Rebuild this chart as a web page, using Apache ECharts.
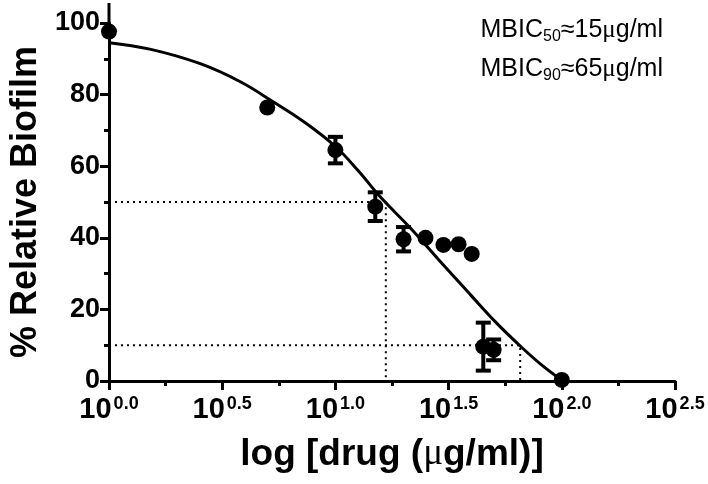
<!DOCTYPE html>
<html>
<head>
<meta charset="utf-8">
<script src="https://cdn.jsdelivr.net/npm/echarts@6/dist/echarts.min.js"></script>
<style>
html,body{margin:0;padding:0;background:#fff;}
#chart{width:708px;height:484px;}
</style>
</head>
<body>
<div id="chart"></div>
<script>
// Measured data: drug concentration (µg/ml) and % relative biofilm
var concentrations = [1, 5, 10, 15, 20, 25, 30, 35, 40, 45, 50, 100];
var biofilm = [97.6, 76.4, 64.5, 48.7, 39.6, 40.0, 38.0, 38.2, 35.5, 9.6, 8.7, 0.3];
var errors = [0, 0, 3.7, 4.0, 3.4, 0, 0, 0, 0, 6.7, 2.9, 0];

// Fitted curve (log10 concentration, % biofilm)
var curveLogX = [0, 0.18, 0.40, 0.58, 0.725, 0.87, 1.0, 1.1, 1.2, 1.33, 1.46, 1.595, 1.71, 1.816, 1.905, 2.0];
var curveY = [94.5, 92.7, 88.7, 83.6, 78.0, 72.0, 65.5, 58.8, 51.3, 42.8, 33.6, 24.2, 16.3, 9.8, 4.8, 0.2];

// MBIC reference levels
var mbicLevels = [50, 10];
var mbicConc = [16.7, 65.5];
var annotations = [['50', '15'], ['90', '65']];

// Axis ticks (log10 exponents) and y ticks
var xTicks = [0, 0.5, 1.0, 1.5, 2.0, 2.5];
var yTicks = [0, 20, 40, 60, 80, 100];

var pointData = concentrations.map(function (c, i) { return [Math.log10(c), biofilm[i]]; });
var errData = concentrations.map(function (c, i) { return [Math.log10(c), biofilm[i], errors[i]]; }).filter(function (d) { return d[2] > 0; });
var curveData = curveLogX.map(function (x, i) { return [x, curveY[i]]; });

var refSeries = [];
mbicLevels.forEach(function (lv, i) {
  var lx = Math.log10(mbicConc[i]);
  refSeries.push({
    type: 'line', data: [[0, lv], [lx, lv], [lx, 0]], symbol: 'none', silent: true,
    lineStyle: { color: '#000', width: 2, type: [2, 4] }, z: 1, animation: false
  });
});

var chart = echarts.init(document.getElementById('chart'), null, { renderer: 'canvas' });
var font = '"Liberation Sans", Arial, sans-serif';

var option = {
  animation: false,
  backgroundColor: '#fff',
  grid: { left: 109, right: 33, top: 23, bottom: 103 },
  xAxis: {
    type: 'value', min: xTicks[0], max: xTicks[xTicks.length - 1], interval: 0.5,
    name: 'log [drug ({m|μ}g/ml)]', nameLocation: 'middle', nameGap: 55,
    nameTextStyle: { fontFamily: font, fontWeight: 'bold', fontSize: 37, color: '#000',
      rich: { m: { fontFamily: '"Liberation Serif", serif', fontWeight: 'normal', fontSize: 37, color: '#000' } } },
    axisLine: { lineStyle: { color: '#000', width: 3 } },
    axisTick: { length: 9, lineStyle: { color: '#000', width: 3 } },
    minorTick: { show: true, splitNumber: 2, length: 5, lineStyle: { color: '#000', width: 3 } },
    splitLine: { show: false },
    axisLabel: {
      margin: 14,
      formatter: function (v) { return '{b|10}{s|' + v.toFixed(1) + '}'; },
      rich: {
        b: { fontFamily: font, fontWeight: 'bold', fontSize: 29, color: '#000', verticalAlign: 'top', lineHeight: 30 },
        s: { fontFamily: font, fontWeight: 'bold', fontSize: 18, color: '#000', verticalAlign: 'top', lineHeight: 30, padding: [0, 0, 0, 2] }
      }
    }
  },
  yAxis: {
    type: 'value', min: yTicks[0], max: yTicks[yTicks.length - 1], interval: 20,
    name: '% Relative Biofilm', nameLocation: 'middle', nameGap: 64,
    nameTextStyle: { fontFamily: font, fontWeight: 'bold', fontSize: 36, color: '#000' },
    axisLine: { lineStyle: { color: '#000', width: 3 } },
    axisTick: { length: 9, lineStyle: { color: '#000', width: 3 } },
    minorTick: { show: true, splitNumber: 2, length: 5, lineStyle: { color: '#000', width: 3 } },
    splitLine: { show: false },
    axisLabel: { fontFamily: font, fontWeight: 'bold', fontSize: 27, color: '#000', margin: 9 }
  },
  series: refSeries.concat([
    {
      type: 'line', data: curveData, smooth: 0.4, symbol: 'none', silent: true,
      lineStyle: { color: '#000', width: 3 }, z: 3
    },
    {
      type: 'custom', z: 4, clip: false,
      data: errData,
      renderItem: function (params, api) {
        var x = api.value(0), y = api.value(1), e = api.value(2);
        var top = api.coord([x, y + e]), bot = api.coord([x, y - e]);
        var hw = 7.5;
        var st = { stroke: '#000', lineWidth: 4 };
        return {
          type: 'group', children: [
            { type: 'line', shape: { x1: top[0], y1: top[1], x2: bot[0], y2: bot[1] }, style: st },
            { type: 'line', shape: { x1: top[0] - hw, y1: top[1], x2: top[0] + hw, y2: top[1] }, style: st },
            { type: 'line', shape: { x1: bot[0] - hw, y1: bot[1], x2: bot[0] + hw, y2: bot[1] }, style: st }
          ]
        };
      }
    },
    {
      type: 'scatter', data: pointData, symbol: 'circle', symbolSize: 16, clip: false,
      itemStyle: { color: '#000', opacity: 1 }, z: 5
    }
  ])
};
chart.setOption(option);

// Annotation text (top right) and upward extension of the y axis line
var origin = chart.convertToPixel({ gridIndex: 0 }, [0, 100]);
var annRich = {
  a: { fontFamily: font, fontSize: 25, fill: '#000' },
  m: { fontFamily: '"Liberation Serif", serif', fontSize: 25, fill: '#000' },
  s: { fontFamily: font, fontSize: 16, fill: '#000', padding: [13, 0, 0, 0] }
};
chart.setOption({
  graphic: [
    { type: 'line', shape: { x1: origin[0], y1: origin[1], x2: origin[0], y2: origin[1] - 20 },
      style: { stroke: '#000', lineWidth: 3 }, silent: true },
    { type: 'text', x: 663, y: 30, silent: true,
      style: { text: '{a|MBIC}{s|' + annotations[0][0] + '}{a|≈' + annotations[0][1] + '}{m|μ}{a|g/ml}', align: 'right', verticalAlign: 'middle', rich: annRich } },
    { type: 'text', x: 663, y: 69, silent: true,
      style: { text: '{a|MBIC}{s|' + annotations[1][0] + '}{a|≈' + annotations[1][1] + '}{m|μ}{a|g/ml}', align: 'right', verticalAlign: 'middle', rich: annRich } }
  ]
});
</script>
</body>
</html>
